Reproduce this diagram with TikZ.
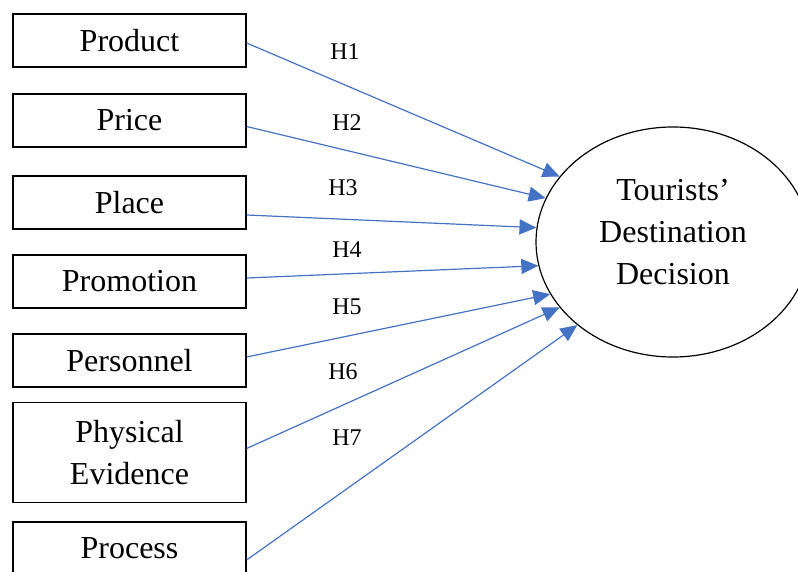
\documentclass[tikz,border=0pt]{standalone}
\usepackage{fontspec}
\setmainfont{Liberation Serif}
\usetikzlibrary{arrows.meta,shapes.geometric}
\definecolor{hblue}{RGB}{68,114,196}

\begin{document}
\begin{tikzpicture}[x=0.5pt,y=-0.5pt]
\tikzstyle{every node}=[inner sep=0pt]
\tikzstyle{factor}=[draw,line width=0.6pt,minimum width=116.5pt,minimum height=26.5pt,align=center,font=\fontsize{16}{21}\selectfont]
\tikzstyle{hyp}=[font=\fontsize{12}{14}\selectfont]
\tikzstyle{link}=[draw=hblue,line width=0.6pt,-{Triangle[length=8.5pt,width=7.5pt]}]
\useasboundingbox (0,0) rectangle (798,572);
\clip (0,0) rectangle (798,572);
% the seven marketing mix factors
\draw (129.5,40.5) node (prod) [factor] {Product};
\draw (129.5,120.5) node (price) [factor] {Price};
\draw (129.5,202.5) node (place) [factor] {Place};
\draw (129.5,281.5) node (promo) [factor] {Promotion};
\draw (129.5,360.5) node (pers) [factor] {Personnel};
\draw (129.5,452.5) node (phys) [factor,minimum height=50pt] {Physical\\Evidence};
\draw (129.5,548.5) node (proc) [factor] {Process};
% the outcome
\draw (673,242) node (dec) [draw,ellipse,line width=0.6pt,minimum width=137pt,minimum height=115pt,align=center,text depth=10pt,font=\fontsize{16}{21}\selectfont] {Tourists’\\Destination\\Decision};
% hypotheses
\draw (345,52) node (h1) [hyp] {H1};
\draw (347,123) node (h2) [hyp] {H2};
\draw (343,188) node (h3) [hyp] {H3};
\draw (347,250) node (h4) [hyp] {H4};
\draw (347,307) node (h5) [hyp] {H5};
\draw (343,372) node (h6) [hyp] {H6};
\draw (347,438) node (h7) [hyp] {H7};
\draw[link] ([yshift=-1.25pt]prod.east) -- (dec.150);
\draw[link] ([yshift=-3pt]price.east) -- (dec.161);
\draw[link] ([yshift=-6.25pt]place.east) -- (dec.174);
\draw[link] ([yshift=1.75pt]promo.east) -- (dec.190);
\draw[link] ([yshift=1.75pt]pers.east) -- (dec.203);
\draw[link] ([yshift=2pt]phys.east) -- (dec.210);
\draw[link] ([yshift=-5.75pt]proc.east) -- (dec.221);
\end{tikzpicture}
\end{document}
